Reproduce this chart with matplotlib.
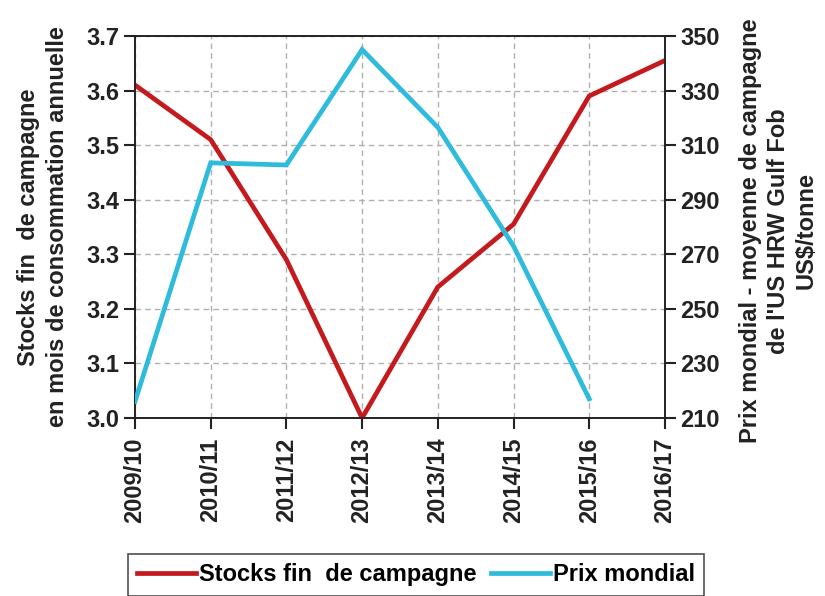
import matplotlib
matplotlib.use("Agg")
import matplotlib.pyplot as plt

campagnes = ["2009/10", "2010/11", "2011/12", "2012/13", "2013/14", "2014/15", "2015/16", "2016/17"]
stocks = [3.61, 3.51, 3.29, 3.00, 3.24, 3.355, 3.59, 3.655]
prix_campagnes = ["2009/10", "2010/11", "2011/12", "2012/13", "2013/14", "2014/15", "2015/16"]
prix = [216, 303.5, 302.7, 345, 316.5, 273, 217]

left_ticks = [3.0, 3.1, 3.2, 3.3, 3.4, 3.5, 3.6, 3.7]
right_ticks = [210, 230, 250, 270, 290, 310, 330, 350]

plt.rcParams['font.family'] = ['Liberation Sans', 'DejaVu Sans']
plt.rcParams['font.weight'] = 'bold'

red = "#C41A1E"
blue = "#2EBBDC"
fs = 17

fig = plt.figure(figsize=(8.25, 5.96), dpi=100)
ax = fig.add_axes([0.1636, 0.2987, 0.6424, 0.641])
ax2 = ax.twinx()

x = list(range(len(campagnes)))
xp = [campagnes.index(c) for c in prix_campagnes]

l1, = ax.plot(x, stocks, color=red, lw=3.4, solid_joinstyle='miter', zorder=3, label="Stocks fin  de campagne")
l2, = ax2.plot(xp, prix, color=blue, lw=3.4, solid_joinstyle='miter', zorder=3, label="Prix mondial")

ax.set_xlim(0, len(campagnes) - 1)
ax.set_ylim(3.0, 3.7)
ax2.set_ylim(210, 350)
ax.set_yticks(left_ticks)
ax.set_yticklabels([f"{v:.1f}" for v in left_ticks])
ax2.set_yticks(right_ticks)
ax.set_xticks(x)
ax.set_xticklabels(campagnes, rotation=90)

ax.grid(True, color="#b0b0b0", linestyle=(0, (4, 3)), linewidth=1)
ax.set_axisbelow(True)

for a in (ax, ax2):
    for s in a.spines.values():
        s.set_color("#222222")
        s.set_linewidth(1.2)
    a.tick_params(direction='out', length=8, width=1.5, labelsize=fs, colors="#222222", pad=3)
ax.tick_params(axis='x', pad=6)

ax.set_ylabel("Stocks fin  de campagne\nen mois de consommation annuelle",
              fontsize=fs, fontweight='bold', color="#222222", linespacing=1.3)
ax.yaxis.set_label_coords(-0.125, 0.5)
ax2.set_ylabel("Prix mondial - moyenne de campagne\nde l'US HRW Gulf Fob\nUS$/tonne",
               fontsize=fs, fontweight='bold', color="#222222", linespacing=1.25)
ax2.yaxis.set_label_coords(1.14, 0.49)

leg = fig.legend(handles=[l1, l2], loc='upper left', bbox_to_anchor=(0.155, 0.071),
                 ncol=2, fontsize=fs, frameon=True, fancybox=False, edgecolor="#222222",
                 handlelength=2.5, handletextpad=0.12, columnspacing=0.6, borderpad=0.4,
                 borderaxespad=0)
leg.get_frame().set_linewidth(1.2)

fig.savefig("out.png", dpi=100)
